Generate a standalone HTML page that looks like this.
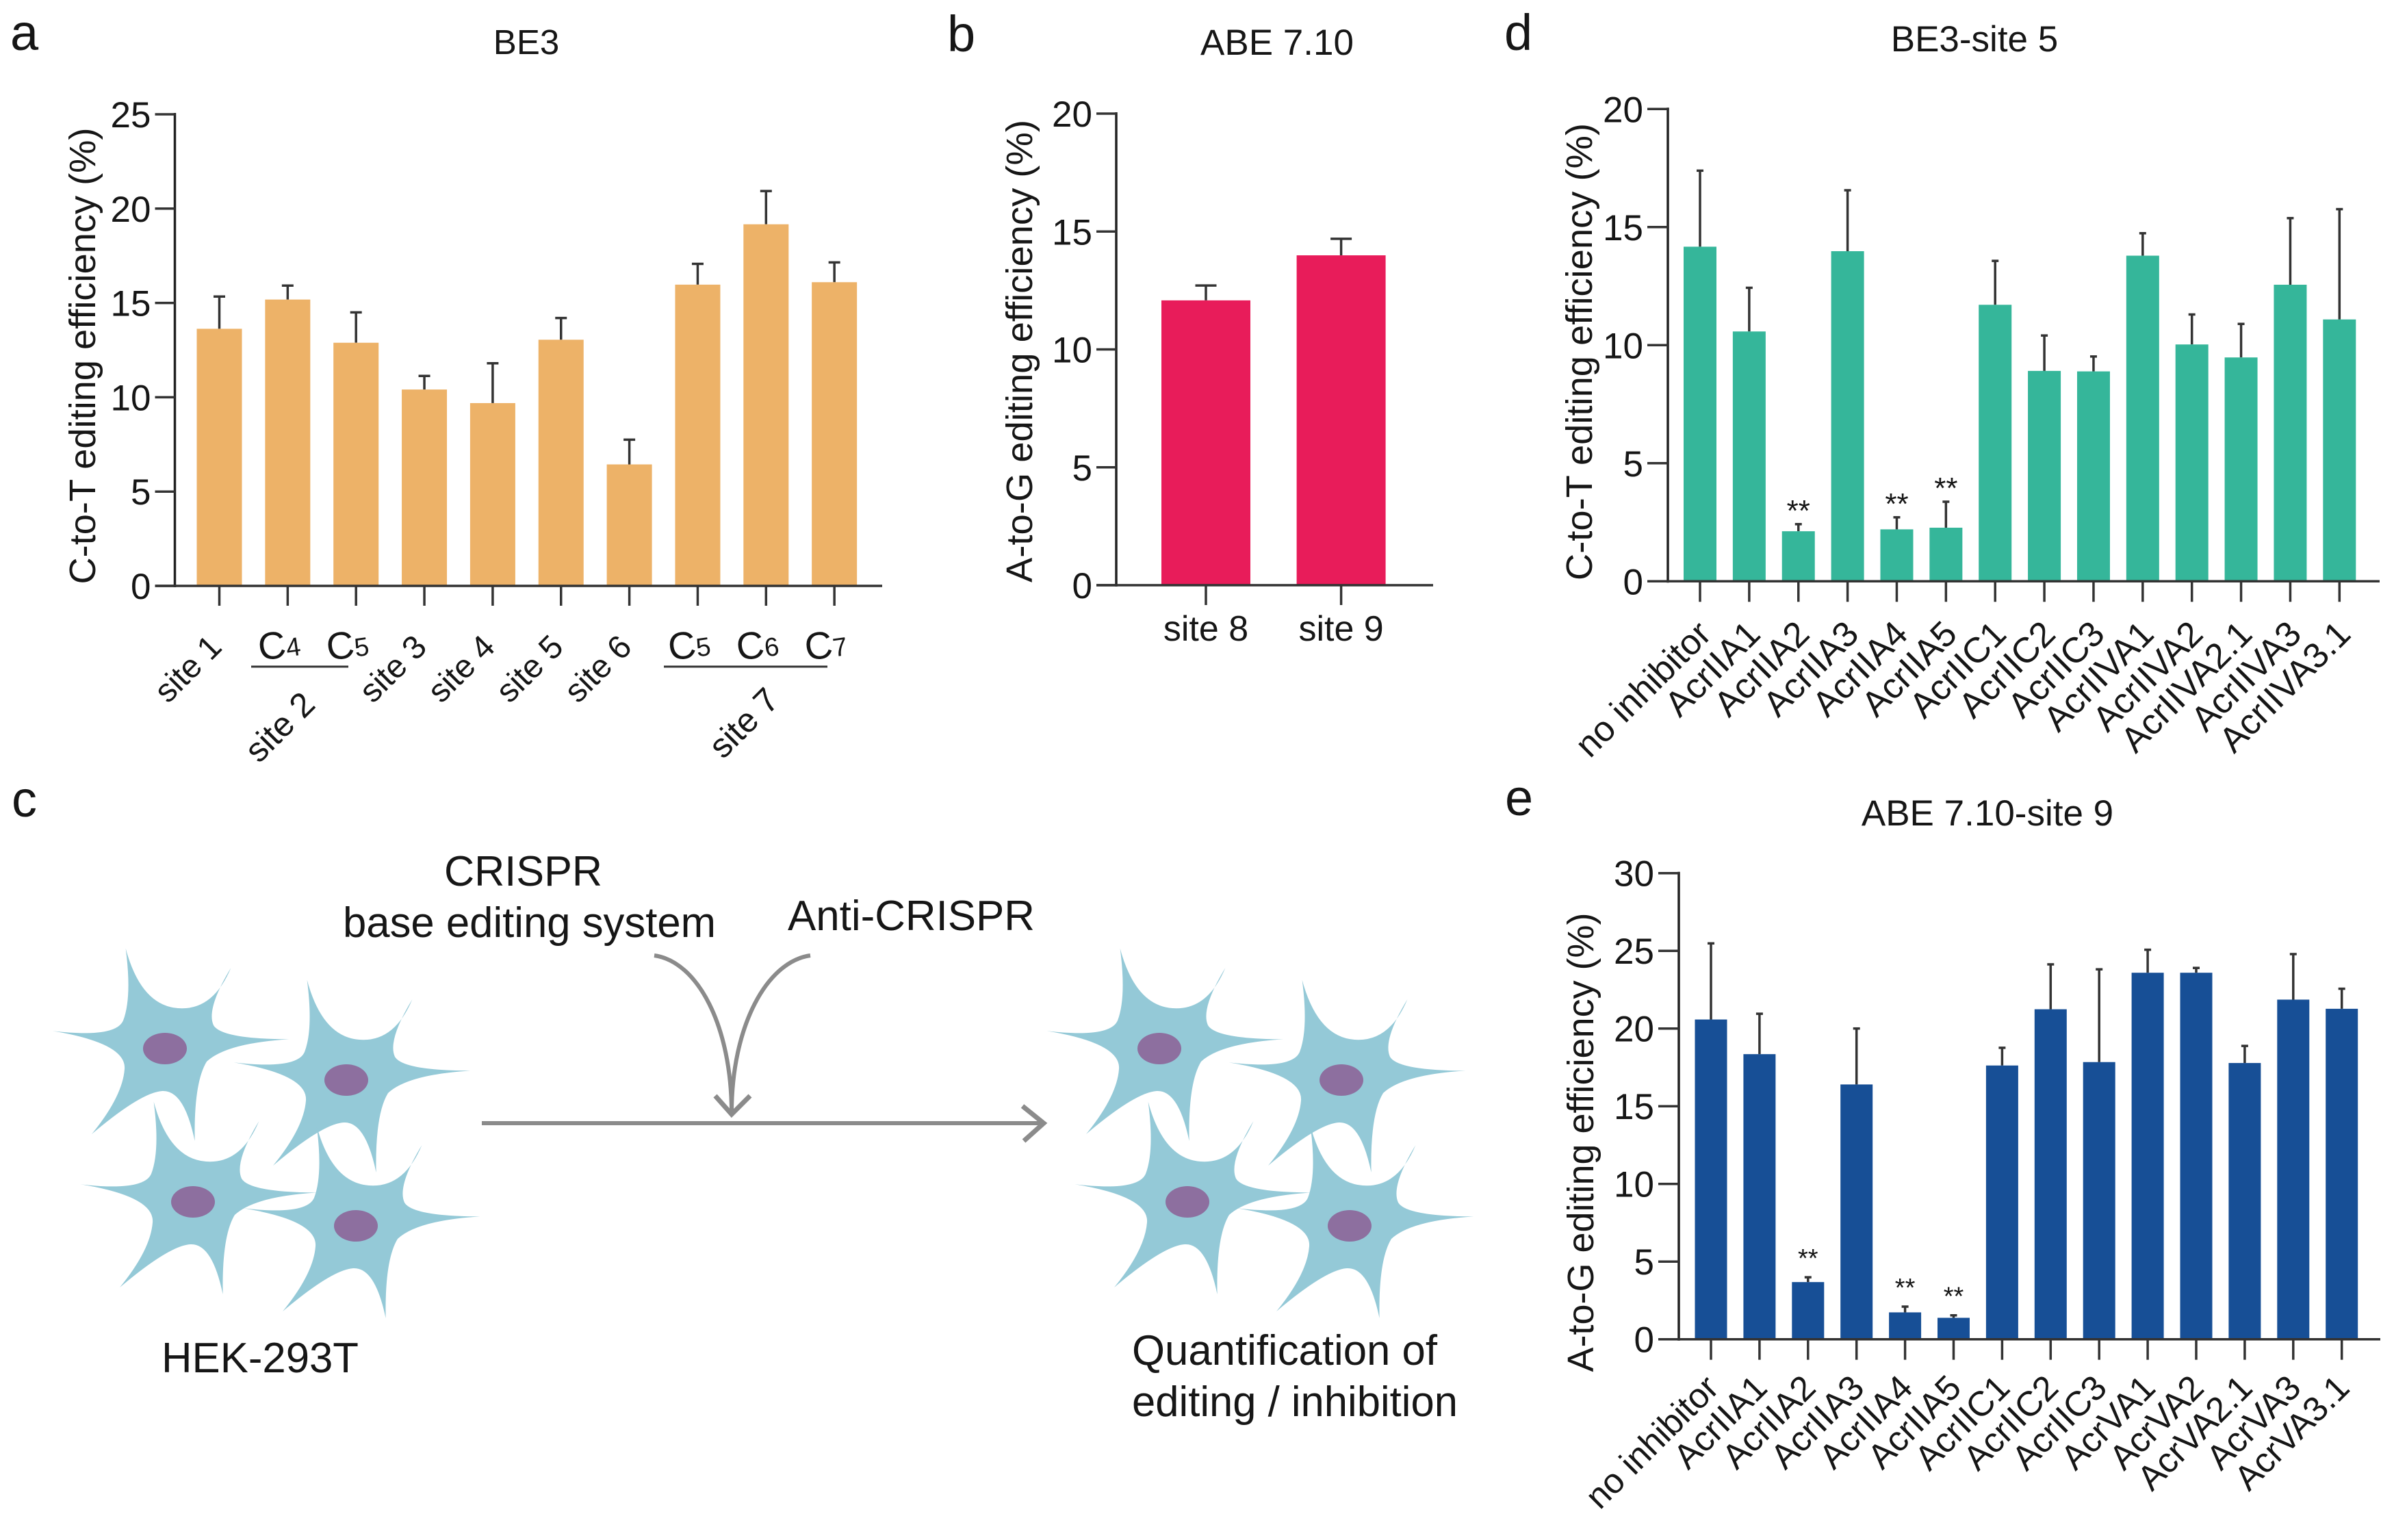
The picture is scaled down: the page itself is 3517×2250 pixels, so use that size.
<!DOCTYPE html>
<html lang="en">
<head>
<meta charset="utf-8">
<title>Base editing efficiency figure</title>
<style>
html,body{margin:0;padding:0;background:#fff;}
svg{display:block;}
text{font-family:"Liberation Sans",Arial,sans-serif;fill:#161616;}
</style>
</head>
<body>
<svg id="figure" xmlns="http://www.w3.org/2000/svg" width="3517" height="2250" viewBox="0 0 3517 2250">
  <rect width="3517" height="2250" fill="#fff"/>

  <text x="15" y="73" font-size="74">a</text>
  <text x="1384" y="75" font-size="74">b</text>
  <text x="17" y="1193" font-size="74">c</text>
  <text x="2198" y="73" font-size="74">d</text>
  <text x="2199" y="1191" font-size="74">e</text>

  <text x="769" y="79" font-size="51" text-anchor="middle">BE3</text>
  <text x="1866" y="80" font-size="53" text-anchor="middle">ABE 7.10</text>
  <text x="2885" y="75" font-size="53" text-anchor="middle">BE3-site 5</text>
  <text x="2904" y="1206" font-size="53" text-anchor="middle">ABE 7.10-site 9</text>

  <g id="charts"></g>

  <g>
    <line x1="367" y1="974" x2="509" y2="974" stroke="#333" stroke-width="3"/>
    <line x1="970" y1="974" x2="1209" y2="974" stroke="#333" stroke-width="3"/>
    <text text-anchor="end" font-size="50" transform="translate(463,1032) rotate(-45)">site 2</text>
    <text text-anchor="end" font-size="50" transform="translate(1141,1026) rotate(-45)">site 7</text>
  </g>

  <defs>
    <path id="cell-shape" d="M-57.4 -146.4 Q-35 -63 19 -59 Q70 -55 96.4 -117.9 Q60 -58 71 -34 Q83 -14 181.3 -13.6 Q90 -8 61 19 Q42 50 43.6 135 Q28 60 -4 62 Q-35 64 -107 125 Q-62 70 -59 30 Q-56 -8 -164.5 -25.7 Q-72 -15 -61 -41 Q-48 -75 -57.4 -146.4 Z"/>
  </defs>

  <g>
    <use href="#cell-shape" fill="#94c9d7" transform="translate(241,1532)"/>
    <use href="#cell-shape" fill="#94c9d7" transform="translate(506,1578)"/>
    <use href="#cell-shape" fill="#94c9d7" transform="translate(282,1756)"/>
    <use href="#cell-shape" fill="#94c9d7" transform="translate(520,1791)"/>
    <ellipse cx="241" cy="1532" rx="32" ry="23" fill="#8d6f9f"/>
    <ellipse cx="506" cy="1578" rx="32" ry="23" fill="#8d6f9f"/>
    <ellipse cx="282" cy="1756" rx="32" ry="23" fill="#8d6f9f"/>
    <ellipse cx="520" cy="1791" rx="32" ry="23" fill="#8d6f9f"/>
  </g>
  <g>
    <use href="#cell-shape" fill="#94c9d7" transform="translate(1694,1532)"/>
    <use href="#cell-shape" fill="#94c9d7" transform="translate(1960,1578)"/>
    <use href="#cell-shape" fill="#94c9d7" transform="translate(1735,1756)"/>
    <use href="#cell-shape" fill="#94c9d7" transform="translate(1972,1791)"/>
    <ellipse cx="1694" cy="1532" rx="32" ry="23" fill="#8d6f9f"/>
    <ellipse cx="1960" cy="1578" rx="32" ry="23" fill="#8d6f9f"/>
    <ellipse cx="1735" cy="1756" rx="32" ry="23" fill="#8d6f9f"/>
    <ellipse cx="1972" cy="1791" rx="32" ry="23" fill="#8d6f9f"/>
  </g>

  <g fill="none" stroke="#8b8b8b" stroke-width="6">
    <line x1="704" y1="1641" x2="1523" y2="1641"/>
    <polyline points="1494,1616 1525,1641 1496,1667" stroke-width="7"/>
    <path d="M956 1396 C1020 1405 1069 1500 1069 1626"/>
    <path d="M1184 1396 C1120 1405 1069 1500 1069 1626"/>
    <polyline points="1045,1601 1069,1628 1096,1601" stroke-width="7"/>
  </g>

  <g>
    <text x="649" y="1294" font-size="62" textLength="231" lengthAdjust="spacingAndGlyphs">CRISPR</text>
    <text x="501" y="1369" font-size="62" textLength="545" lengthAdjust="spacingAndGlyphs">base editing system</text>
    <text x="1151" y="1359" font-size="62" textLength="361" lengthAdjust="spacingAndGlyphs">Anti-CRISPR</text>
    <text x="236" y="2005" font-size="62" textLength="288" lengthAdjust="spacingAndGlyphs">HEK-293T</text>
    <text x="1654" y="1994" font-size="62" textLength="446" lengthAdjust="spacingAndGlyphs">Quantification of</text>
    <text x="1654" y="2069" font-size="62" textLength="476" lengthAdjust="spacingAndGlyphs">editing / inhibition</text>
  </g>
</svg>

<script>
var aCategories = ['site 1', 'C|4', 'C|5', 'site 3', 'site 4', 'site 5', 'site 6', 'C|5', 'C|6', 'C|7'];
var aValues = [13.63, 15.18, 12.89, 10.41, 9.69, 13.05, 6.44, 15.97, 19.17, 16.1];
var aErrorTops = [15.34, 15.92, 14.5, 11.13, 11.8, 14.2, 7.75, 17.07, 20.93, 17.15];
var aTicks = [0, 5, 10, 15, 20, 25];

var bCategories = ['site 8', 'site 9'];
var bValues = [12.08, 13.99];
var bErrorTops = [12.71, 14.69];
var bTicks = [0, 5, 10, 15, 20];

var dCategories = ['no inhibitor', 'AcrIIA1', 'AcrIIA2', 'AcrIIA3', 'AcrIIA4', 'AcrIIA5', 'AcrIIC1', 'AcrIIC2', 'AcrIIC3', 'AcrIIVA1', 'AcrIIVA2', 'AcrIIVA2.1', 'AcrIIVA3', 'AcrIIVA3.1'];
var dValues = [14.17, 10.58, 2.12, 13.98, 2.2, 2.27, 11.71, 8.91, 8.89, 13.79, 10.03, 9.48, 12.56, 11.09];
var dErrorTops = [17.39, 12.43, 2.42, 16.56, 2.71, 3.37, 13.57, 10.41, 9.52, 14.74, 11.3, 10.9, 15.38, 15.76];
var dSignificant = ['AcrIIA2', 'AcrIIA4', 'AcrIIA5'];
var dTicks = [0, 5, 10, 15, 20];

var eCategories = ['no inhibitor', 'AcrIIA1', 'AcrIIA2', 'AcrIIA3', 'AcrIIA4', 'AcrIIA5', 'AcrIIC1', 'AcrIIC2', 'AcrIIC3', 'AcrVA1', 'AcrVA2', 'AcrVA2.1', 'AcrVA3', 'AcrVA3.1'];
var eValues = [20.58, 18.35, 3.68, 16.4, 1.73, 1.38, 17.62, 21.24, 17.84, 23.59, 23.59, 17.78, 21.86, 21.27];
var eErrorTops = [25.48, 20.95, 3.99, 20.0, 2.1, 1.54, 18.76, 24.13, 23.81, 25.07, 23.9, 18.88, 24.79, 22.56];
var eSignificant = ['AcrIIA2', 'AcrIIA4', 'AcrIIA5'];
var eTicks = [0, 5, 10, 15, 20, 25, 30];

var NS = 'http://www.w3.org/2000/svg';
var root = document.getElementById('charts');

function svgEl(parent, tag, attrs, text) {
  var el = document.createElementNS(NS, tag);
  for (var k in attrs) { el.setAttribute(k, attrs[k]); }
  if (text !== undefined) { el.textContent = text; }
  parent.appendChild(el);
  return el;
}

function drawChart(c) {
  var yOf = function (v) { return c.y0 - (v / c.yMax) * (c.y0 - c.yTop); };
  var xOf = function (i) { return c.xFirst + i * c.xStep; };

  var g = svgEl(root, 'g', {});
  
  

  c.values.forEach(function (v, i) {
    var cx = xOf(i);
    var err = svgEl(g, 'line', { x1: cx, x2: cx, y1: yOf(v), y2: yOf(c.errorTops[i]), stroke: '#333', 'stroke-width': 3.5 });
    
    
    var cap = svgEl(g, 'line', { x1: cx - c.capW / 2, x2: cx + c.capW / 2, y1: yOf(c.errorTops[i]), y2: yOf(c.errorTops[i]), stroke: '#333', 'stroke-width': 3.5 });
    
    
    var bar = svgEl(g, 'rect', { x: cx - c.barW / 2, y: yOf(v), width: c.barW, height: c.y0 - yOf(v), fill: c.color });
    
    
    var tick = svgEl(g, 'line', { x1: cx, x2: cx, y1: c.y0, y2: c.y0 + c.tickLen, stroke: '#333', 'stroke-width': 3.5 });
    
    
  });

  var yAxis = svgEl(g, 'line', { x1: c.xAxis, x2: c.xAxis, y1: c.yTop - 2, y2: c.y0 + 2, stroke: '#222', 'stroke-width': 3.5 });
  
  
  var xAxis = svgEl(g, 'line', { x1: c.xAxis - c.tickLen, x2: c.xEnd, y1: c.y0, y2: c.y0, stroke: '#333', 'stroke-width': 3.5 });
  
  

  c.ticks.forEach(function (t) {
    var y = yOf(t);
    var tk = svgEl(g, 'line', { x1: c.xAxis - c.tickLen, x2: c.xAxis, y1: y, y2: y, stroke: '#333', 'stroke-width': 3.5 });
    
    
    var lb = svgEl(g, 'text', { x: c.xAxis - c.tickLen - 6, y: y + 19, 'font-size': 53, 'text-anchor': 'end' }, String(t));
    
    
  });

  var title = svgEl(g, 'text', {
    'font-size': 54, 'text-anchor': 'middle', textLength: c.titleLen, lengthAdjust: 'spacingAndGlyphs',
    transform: 'translate(' + c.titleX + ',' + c.titleY + ') rotate(-90)'
  }, c.yTitle);
  
  

  c.categories.forEach(function (name, i) {
    var cx = xOf(i);
    var parts = name.split('|');
    if (parts.length === 2) {
      var sub = svgEl(g, 'text', {
        'font-size': 56, 'text-anchor': 'middle',
        transform: 'translate(' + (cx - 10) + ',' + (c.y0 + 105) + ') rotate(-8)'
      });
      
      
      svgEl(sub, 'tspan', {}, parts[0]);
      svgEl(sub, 'tspan', { 'font-size': 38 }, parts[1]);
      return;
    }
    var attrs = { 'font-size': c.labelSize };
    if (c.labelAngle) {
      attrs['text-anchor'] = 'end';
      attrs.transform = 'translate(' + (cx + c.labelDx) + ',' + (c.y0 + c.labelDy) + ') rotate(' + c.labelAngle + ')';
    } else {
      attrs['text-anchor'] = 'middle';
      attrs.x = cx;
      attrs.y = c.y0 + c.labelDy;
    }
    var lab = svgEl(g, 'text', attrs, name);
    
    
  });

  (c.significant || []).forEach(function (name) {
    var i = c.categories.indexOf(name);
    var star = svgEl(g, 'text', { x: xOf(i), y: yOf(c.errorTops[i]) + c.starDy, 'font-size': c.starSize, 'text-anchor': 'middle' }, '**');
    
    
  });
}

drawChart({
  id: 'a', categories: aCategories, values: aValues, errorTops: aErrorTops, ticks: aTicks,
  yMax: 25, yTop: 167, y0: 856, xAxis: 255.5, xEnd: 1289, xFirst: 320.5, xStep: 99.85, barW: 66, capW: 17,
  tickLen: 29, color: '#edb268', yTitle: 'C-to-T editing efficiency (%)', titleX: 139, titleY: 520, titleLen: 667,
  labelSize: 48, labelAngle: -45, labelDx: 6, labelDy: 92
});
drawChart({
  id: 'b', categories: bCategories, values: bValues, errorTops: bErrorTops, ticks: bTicks,
  yMax: 20, yTop: 166, y0: 855, xAxis: 1631, xEnd: 2094, xFirst: 1762, xStep: 197.6, barW: 130, capW: 31,
  tickLen: 29, color: '#e81c5a', yTitle: 'A-to-G editing efficiency (%)', titleX: 1508, titleY: 513, titleLen: 676,
  labelSize: 52, labelAngle: 0, labelDy: 81
});
drawChart({
  id: 'd', categories: dCategories, values: dValues, errorTops: dErrorTops, ticks: dTicks, significant: dSignificant,
  yMax: 20, yTop: 159.3, y0: 849.3, xAxis: 2437, xEnd: 3477, xFirst: 2484, xStep: 71.87, barW: 48, capW: 10,
  tickLen: 30, color: '#35b69a', yTitle: 'C-to-T editing efficiency (%)', titleX: 2326, titleY: 514, titleLen: 668,
  labelSize: 52, labelAngle: -45, labelDx: 19, labelDy: 80, starSize: 44, starDy: -5
});
drawChart({
  id: 'e', categories: eCategories, values: eValues, errorTops: eErrorTops, ticks: eTicks, significant: eSignificant,
  yMax: 30, yTop: 1275.7, y0: 1956.7, xAxis: 2453, xEnd: 3478, xFirst: 2500, xStep: 70.9, barW: 47, capW: 10,
  tickLen: 30, color: '#174f96', yTitle: 'A-to-G editing efficiency (%)', titleX: 2328, titleY: 1669, titleLen: 671,
  labelSize: 51, labelAngle: -45, labelDx: 14, labelDy: 74, starSize: 38, starDy: -15
});
</script>
</body>
</html>
